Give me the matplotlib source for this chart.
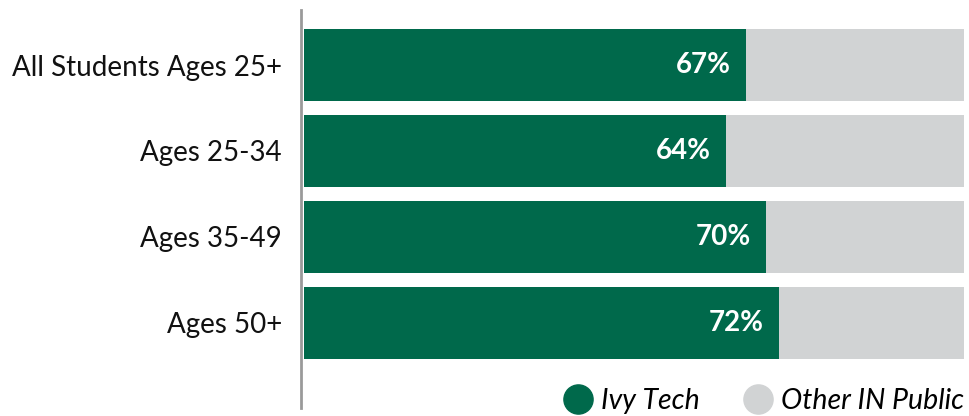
import matplotlib.pyplot as plt
from matplotlib.lines import Line2D

# Anteil Ivy Tech vs. andere öffentliche Hochschulen in Indiana
categories = ["All Students Ages 25+", "Ages 25-34", "Ages 35-49", "Ages 50+"]
ivy_tech = [67, 64, 70, 72]
other_public = [100 - v for v in ivy_tech]

green = "#00694B"
grey = "#D1D3D4"

plt.rcParams['font.family'] = ['Lato', 'DejaVu Sans']

fig = plt.figure(figsize=(9.69, 4.16), dpi=100)
ax = fig.add_axes([304 / 969, 8 / 416, 660 / 969, 398 / 416])

pos = list(range(len(categories)))
ax.barh(pos, ivy_tech, height=0.84, color=green)
ax.barh(pos, other_public, left=ivy_tech, height=0.84, color=grey)

for i, v in enumerate(ivy_tech):
    ax.annotate(f"{v}%", xy=(v, i), xytext=(-11, 0), textcoords="offset points",
                ha="right", va="center", color="white", fontsize=20, fontweight="bold")

ax.set_xlim(0, 100)
ax.set_ylim(3.99, -0.64)
ax.set_yticks(pos, labels=categories)
ax.tick_params(axis="y", length=0, pad=14, labelsize=20, labelcolor="#111111")
ax.set_xticks([])

for side in ["top", "right", "bottom"]:
    ax.spines[side].set_visible(False)
ax.spines["left"].set_color("#9A9A9A")
ax.spines["left"].set_linewidth(2)
ax.spines["left"].set_position(("outward", 2))

handles = [
    Line2D([], [], marker="o", linestyle="none", markersize=21, color=green),
    Line2D([], [], marker="o", linestyle="none", markersize=21, color=grey),
]
fig.legend(handles, ["Ivy Tech", "Other IN Public"], loc="lower right",
           bbox_to_anchor=(1.021, -0.056), ncol=2, frameon=False,
           prop={"size": 20.5, "style": "italic"}, handletextpad=0.25,
           columnspacing=1.5, handlelength=1.1)

fig.savefig("out.png", dpi=100)
